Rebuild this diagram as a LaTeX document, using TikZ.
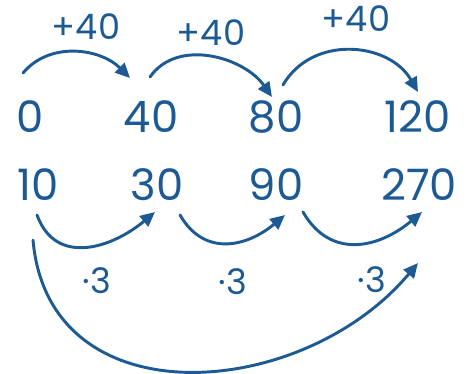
\documentclass[tikz,border=0pt]{standalone}
\usepackage{fontspec}
\setmainfont{Poppins}
\usepackage{tikz}
\usetikzlibrary{arrows.meta}
\definecolor{penBlue}{HTML}{1D5A94}

\begin{document}
\begin{tikzpicture}[x=0.03cm,y=0.03cm,>={Triangle[length=4.4mm,width=4mm]},
    num/.style={text=penBlue,inner sep=0pt,font=\fontsize{37}{37}\selectfont},
    op/.style={text=penBlue,inner sep=0pt,font=\fontsize{30}{30}\selectfont},
    jump/.style={->,penBlue,line width=2.5pt,line cap=round}]
  \useasboundingbox (0,0) rectangle (468,374);
  % top row: adding
  \node[num] (t0) at (30,257) {0};
  \node[num] (t1) at (151,257) {40};
  \node[num] (t2) at (276,257) {80};
  \node[num] (t3) at (418,257) {120};
  % bottom row: multiplying
  \node[num] (b0) at (38,189) {10};
  \node[num] (b1) at (157,189) {30};
  \node[num] (b2) at (276,189) {90};
  \node[num] (b3) at (419,189) {270};
  \draw[jump] ([shift={(-7,44)}]t0.center) to[out=50,in=135] ([shift={(-21,39)}]t1.center);
  \draw[jump] ([shift={(-1,40)}]t1.center) to[out=55,in=125] ([shift={(-4,20)}]t2.center);
  \draw[jump] ([shift={(7,32)}]t2.center) to[out=60,in=120,looseness=1.1] ([shift={(0,25)}]t3.center);
  \node[op] (p1) at (86,347) {+40};
  \node[op] (p2) at (211,341) {+40};
  \node[op] (p3) at (356,355) {+40};
  \draw[jump] ([shift={(-1,-30)}]b0.center) to[out=-70,in=-140,looseness=1.2] ([shift={(-2,-27)}]b1.center);
  \draw[jump] ([shift={(23,-30)}]b1.center) to[out=-60,in=-140,looseness=1.2] ([shift={(9,-30)}]b2.center);
  \draw[jump] ([shift={(27,-27)}]b2.center) to[out=-60,in=-140,looseness=1.2] ([shift={(3,-27)}]b3.center);
  \draw[jump] ([shift={(-5,-55)}]b0.center) to[out=-85,in=-130,looseness=1.2] ([shift={(-1,-78)}]b3.center);
  \node[op] (m1) at (97,93) {·3};
  \node[op] (m2) at (233,92) {·3};
  \node[op] (m3) at (372,94) {·3};
\end{tikzpicture}
\end{document}
